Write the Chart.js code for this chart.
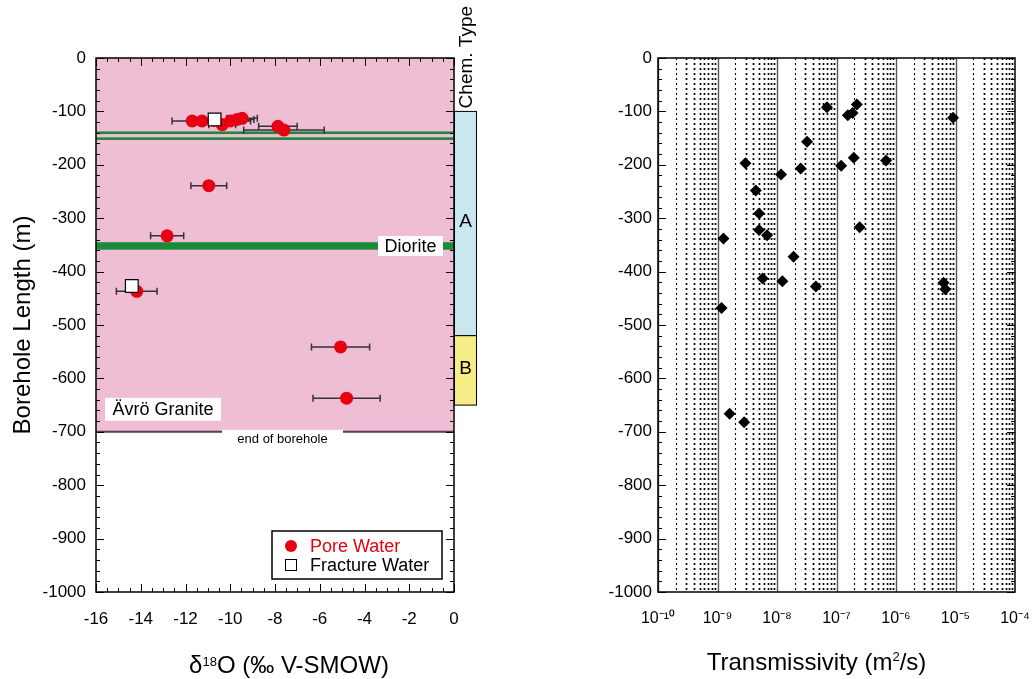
<!DOCTYPE html>
<html>
<head>
<meta charset="utf-8">
<title>Borehole profiles</title>
<script src="https://cdn.jsdelivr.net/npm/chart.js@4.4.1/dist/chart.umd.min.js"></script>
<style>
html, body { margin: 0; padding: 0; background: #fff; }
#wrap { position: relative; width: 1032px; height: 679px; overflow: hidden; }
#left { position: absolute; left: 0; top: 0; }
#right { position: absolute; left: 520px; top: 0; }
</style>
</head>
<body>
<div id="wrap">
<canvas id="left" width="520" height="679"></canvas>
<canvas id="right" width="512" height="679"></canvas>
</div>
<script>
// pore water: delta 18O (per mil V-SMOW), +/- error, borehole length (m)
const poreDelta = [-11.7, -11.26, -10.75, -10.36, -9.99, -9.69, -9.47, -7.87, -7.6, -10.96, -12.82, -14.18, -5.07, -4.8];
const poreErr   = [0.9, 0.6, 0.6, 0.6, 0.9, 0.75, 0.68, 0.86, 1.8, 0.8, 0.74, 0.91, 1.3, 1.5];
const poreDepth = [-118, -118, -117, -125, -118, -115, -113, -128, -135, -239, -333, -437, -541, -637];

// fracture water
const fracDelta = [-10.7, -14.4];
const fracDepth = [-115, -427];

// lithology along the borehole (m)
const boreholeEnd = -700;
const dioriteZones = [[-137.5, -142.5], [-148.5, -153.5], [-345, -359]];

// groundwater chemistry type intervals (m)
const chemLabels = ['A', 'B'];
const chemTop    = [-100, -520];
const chemBottom = [-520, -650];
const chemColors = ['#c9e7ef', '#f7ed86'];

// transmissivity (m2/s) against borehole length (m)
const transValues = [6.9e-8, 1.55e-7, 1.86e-7, 2.2e-7, 9.1e-6, 3.2e-8, 2.95e-9, 1.95e-7, 6.8e-7, 2.5e-8,
                     1.2e-7, 1.17e-8, 4.4e-9, 5.0e-9, 5.0e-9, 6.8e-9, 2.45e-7, 1.26e-9, 1.9e-8, 5.75e-9,
                     1.23e-8, 4.5e-8, 6.3e-6, 6.75e-6, 1.17e-9, 1.6e-9, 2.8e-9];
const transDepth  = [-92, -107, -103, -87, -112, -157, -197, -187, -192, -207,
                     -202, -218, -248, -291, -322, -332, -317, -338, -372, -413,
                     -418, -428, -421, -433, -468, -666, -682];

// axis ranges
const depthMin = -1000, depthMax = 0;
const deltaMin = -16, deltaMax = 0;
const transExpMin = -10, transExpMax = -4;

const FONT = '"Liberation Sans", Arial, Helvetica, sans-serif';
Chart.defaults.font.family = FONT;
Chart.defaults.color = '#000';

const SUP = {'-': '\u207b', '0': '\u2070', '1': '\u00b9', '2': '\u00b2', '3': '\u00b3',
             '4': '\u2074', '5': '\u2075', '6': '\u2076', '7': '\u2077', '8': '\u2078', '9': '\u2079'};
function pow10_label(e) {
    return '10' + String(e).split('').map(c => SUP[c]).join('');
}

function text_box(ctx, txt, x, y, w, h, size) {
    ctx.fillStyle = '#fff';
    ctx.fillRect(x, y, w, h);
    ctx.fillStyle = '#000';
    ctx.font = size + 'px ' + FONT;
    ctx.textAlign = 'center';
    ctx.textBaseline = 'middle';
    ctx.fillText(txt, x + w/2, y + h/2 + 1);
}

// inward tick marks on the depth axis, minor every 20 m
function depth_ticks(ctx, a, y, bothSides) {
    ctx.strokeStyle = '#000';
    ctx.lineWidth = 1;
    ctx.beginPath();
    for(let i=0; i<=50; ++i) {
        const p = Math.round(y.getPixelForValue(depthMin + 20*i)) + 0.5;
        const len = (i % 5 === 0) ? 8 : 4;
        ctx.moveTo(a.left, p); ctx.lineTo(a.left + len, p);
        if(bothSides) { ctx.moveTo(a.right, p); ctx.lineTo(a.right - len, p); }
    }
    ctx.stroke();
}

// title with one superscript part: [before, sup, after]
function title_sup(ctx, parts, cx, base, size, supSize, supRise) {
    ctx.fillStyle = '#000';
    ctx.textBaseline = 'alphabetic';
    ctx.textAlign = 'left';
    ctx.font = size + 'px ' + FONT;
    const w0 = ctx.measureText(parts[0]).width;
    const w2 = ctx.measureText(parts[2]).width;
    ctx.font = supSize + 'px ' + FONT;
    const w1 = ctx.measureText(parts[1]).width;
    let x = cx - (w0 + w1 + w2)/2;
    ctx.font = size + 'px ' + FONT;
    ctx.fillText(parts[0], x, base);
    x += w0;
    ctx.font = supSize + 'px ' + FONT;
    ctx.fillText(parts[1], x, base - supRise);
    x += w1;
    ctx.font = size + 'px ' + FONT;
    ctx.fillText(parts[2], x, base);
}

const leftDecor = {
    id: 'leftDecor',
    beforeDatasetsDraw(chart) {
        const {ctx, chartArea: a, scales: {x, y}} = chart;
        const w = a.right - a.left;
        ctx.save();
        // granite down to the end of the borehole
        const yEnd = y.getPixelForValue(boreholeEnd);
        ctx.fillStyle = '#efbdd4';
        ctx.fillRect(a.left, a.top, w, yEnd - a.top);
        // diorite sections
        ctx.fillStyle = '#1c8a3b';
        for(const [t, b] of dioriteZones) {
            const y0 = y.getPixelForValue(t), y1 = y.getPixelForValue(b);
            ctx.fillRect(a.left, y0, w, y1 - y0);
        }
        ctx.strokeStyle = '#5a3a4e';
        ctx.lineWidth = 2;
        ctx.beginPath();
        ctx.moveTo(a.left, yEnd); ctx.lineTo(a.right, yEnd);
        ctx.stroke();
        // labels
        const dz = dioriteZones[dioriteZones.length-1];
        const yd = (y.getPixelForValue(dz[0]) + y.getPixelForValue(dz[1]))/2;
        text_box(ctx, 'Diorite', a.right - 76, yd - 10, 65, 20, 18);
        text_box(ctx, '\u00c4vr\u00f6 Granite', a.left + 9, yEnd - 34, 116, 23, 18);
        text_box(ctx, 'end of borehole', a.left + 126, yEnd - 2, 121, 17, 13);
        // horizontal error bars
        ctx.strokeStyle = '#333';
        ctx.lineWidth = 1.5;
        ctx.beginPath();
        for(let i=0; i<poreDelta.length; ++i) {
            const p0 = x.getPixelForValue(poreDelta[i] - poreErr[i]);
            const p1 = x.getPixelForValue(poreDelta[i] + poreErr[i]);
            const py = y.getPixelForValue(poreDepth[i]);
            ctx.moveTo(p0, py); ctx.lineTo(p1, py);
            ctx.moveTo(p0, py - 3.5); ctx.lineTo(p0, py + 3.5);
            ctx.moveTo(p1, py - 3.5); ctx.lineTo(p1, py + 3.5);
        }
        ctx.stroke();
        ctx.restore();
    },
    afterDatasetsDraw(chart) {
        const {ctx, chartArea: a, scales: {x, y}} = chart;
        ctx.save();
        // tick marks on all four sides
        depth_ticks(ctx, a, y, true);
        ctx.beginPath();
        for(let i=0; i<=32; ++i) {
            const p = Math.round(x.getPixelForValue(deltaMin + 0.5*i)) + 0.5;
            const len = (i % 4 === 0) ? 8 : 4;
            ctx.moveTo(p, a.bottom); ctx.lineTo(p, a.bottom - len);
            ctx.moveTo(p, a.top); ctx.lineTo(p, a.top + len);
        }
        ctx.stroke();
        ctx.lineWidth = 1.5;
        ctx.strokeRect(a.left, a.top, a.right - a.left, a.bottom - a.top);

        // chemistry type column
        const cx = a.right, cw = 22;
        ctx.lineWidth = 1;
        for(let i=0; i<chemLabels.length; ++i) {
            const y0 = y.getPixelForValue(chemTop[i]), y1 = y.getPixelForValue(chemBottom[i]);
            ctx.fillStyle = chemColors[i];
            ctx.fillRect(cx, y0, cw, y1 - y0);
            ctx.strokeStyle = '#000';
            ctx.strokeRect(cx + 0.5, y0, cw, y1 - y0);
            ctx.fillStyle = '#000';
            ctx.font = '19px ' + FONT;
            ctx.textAlign = 'center';
            ctx.textBaseline = 'middle';
            ctx.fillText(chemLabels[i], cx + cw/2 + 0.5, (y0 + y1)/2 - 2);
        }
        ctx.save();
        ctx.translate(cx + 18, y.getPixelForValue(chemTop[0]) - 3);
        ctx.rotate(-Math.PI/2);
        ctx.font = '19px ' + FONT;
        ctx.textAlign = 'left';
        ctx.textBaseline = 'alphabetic';
        ctx.fillText('Chem. Type', 0, 0);
        ctx.restore();

        // legend
        const lx = a.right - 182, ly = a.bottom - 61;
        ctx.fillStyle = '#fff';
        ctx.fillRect(lx, ly, 170, 48);
        ctx.lineWidth = 1.5;
        ctx.strokeStyle = '#000';
        ctx.strokeRect(lx, ly, 170, 48);
        ctx.fillStyle = '#e60012';
        ctx.beginPath();
        ctx.arc(lx + 19, ly + 15, 6, 0, 2*Math.PI);
        ctx.fill();
        ctx.fillStyle = '#fff';
        ctx.fillRect(lx + 13, ly + 28, 12, 12);
        ctx.lineWidth = 1;
        ctx.strokeRect(lx + 13.5, ly + 28.5, 11, 11);
        ctx.font = '18px ' + FONT;
        ctx.textAlign = 'left';
        ctx.textBaseline = 'middle';
        ctx.fillStyle = '#e60012';
        ctx.fillText('Pore Water', lx + 38, ly + 16);
        ctx.fillStyle = '#000';
        ctx.fillText('Fracture Water', lx + 38, ly + 35);

        // axis titles
        ctx.save();
        ctx.translate(30, (a.top + a.bottom)/2);
        ctx.rotate(-Math.PI/2);
        ctx.font = '24px ' + FONT;
        ctx.textAlign = 'center';
        ctx.textBaseline = 'alphabetic';
        ctx.fillText('Borehole Length (m)', 0, 0);
        ctx.restore();
        title_sup(ctx, ['\u03b4', '18', 'O (\u2030 V-SMOW)'], a.left + 193, a.bottom + 81, 24, 13, 7);
        ctx.restore();
    }
};

const rightDecor = {
    id: 'rightDecor',
    beforeDatasetsDraw(chart) {
        const {ctx, chartArea: a, scales: {x}} = chart;
        ctx.save();
        // decade lines solid, 2..9 dotted
        for(let e=transExpMin; e<transExpMax; ++e) {
            for(let m=1; m<=9; ++m) {
                const p = Math.round(x.getPixelForValue(m*Math.pow(10, e))) + 0.5;
                ctx.beginPath();
                if(m === 1) {
                    ctx.setLineDash([]);
                    ctx.strokeStyle = '#555';
                    ctx.lineWidth = 1.4;
                } else {
                    ctx.setLineDash([2, 3]);
                    ctx.strokeStyle = '#000';
                    ctx.lineWidth = m === 2 ? 1.1 : 1.7;
                }
                ctx.moveTo(p, a.top); ctx.lineTo(p, a.bottom);
                ctx.stroke();
            }
        }
        ctx.restore();
    },
    afterDatasetsDraw(chart) {
        const {ctx, chartArea: a, scales: {y}} = chart;
        ctx.save();
        depth_ticks(ctx, a, y, true);
        ctx.lineWidth = 1.5;
        ctx.strokeStyle = '#000';
        ctx.strokeRect(a.left, a.top, a.right - a.left, a.bottom - a.top);
        title_sup(ctx, ['Transmissivity (m', '2', '/s)'], (a.left + a.right)/2 - 20, a.bottom + 78, 24, 13, 9);
        ctx.restore();
    }
};

function depth_axis(width, pad) {
    return {
        type: 'linear',
        min: depthMin,
        max: depthMax,
        grid: {display: false, drawTicks: false},
        border: {display: false},
        ticks: {stepSize: 100, padding: pad, font: {size: 17}, callback: v => String(v)},
        afterFit: s => { s.width = width; }
    };
}

// keep the plot edges where the layout puts them, labels may overhang
function fit_bottom(s) {
    s.height = 87;
    s.paddingLeft = 0;
    s.paddingRight = 0;
}

new Chart(document.getElementById('left'), {
    type: 'scatter',
    data: {
        datasets: [{
            label: 'Fracture Water',
            order: 0,
            data: fracDelta.map((v, i) => ({x: v, y: fracDepth[i]})),
            pointStyle: 'rect',
            pointRadius: 9,
            backgroundColor: '#fff',
            borderColor: '#000',
            borderWidth: 1.2
        }, {
            label: 'Pore Water',
            order: 1,
            data: poreDelta.map((v, i) => ({x: v, y: poreDepth[i]})),
            pointStyle: 'circle',
            pointRadius: 6.5,
            backgroundColor: '#e60012',
            borderColor: '#e60012',
            borderWidth: 0
        }]
    },
    options: {
        responsive: false,
        animation: false,
        layout: {padding: {left: 0, top: 58, right: 66, bottom: 0}},
        plugins: {legend: {display: false}, tooltip: {enabled: false}},
        scales: {
            x: {
                type: 'linear',
                min: deltaMin,
                max: deltaMax,
                grid: {display: false, drawTicks: false},
                border: {display: false},
                ticks: {stepSize: 2, padding: 17, maxRotation: 0, autoSkip: false, font: {size: 17}, callback: v => String(v)},
                afterFit: fit_bottom
            },
            y: depth_axis(96, 10)
        }
    },
    plugins: [leftDecor]
});

new Chart(document.getElementById('right'), {
    type: 'scatter',
    data: {
        datasets: [{
            label: 'Transmissivity',
            data: transValues.map((v, i) => ({x: v, y: transDepth[i]})),
            pointStyle: 'rectRot',
            pointRadius: 6,
            backgroundColor: '#000',
            borderWidth: 0
        }]
    },
    options: {
        responsive: false,
        animation: false,
        layout: {padding: {left: 0, top: 58, right: 17, bottom: 0}},
        plugins: {legend: {display: false}, tooltip: {enabled: false}},
        scales: {
            x: {
                type: 'logarithmic',
                min: Math.pow(10, transExpMin),
                max: Math.pow(10, transExpMax),
                grid: {display: false, drawTicks: false},
                border: {display: false},
                ticks: {
                    padding: 17, maxRotation: 0, autoSkip: false, font: {size: 16},
                    callback: function(v) {
                        const e = Math.log10(v), r = Math.round(e);
                        return Math.abs(e - r) < 1e-6 ? pow10_label(r) : '';
                    }
                },
                afterFit: fit_bottom
            },
            y: depth_axis(138, 6)
        }
    },
    plugins: [rightDecor]
});
</script>
</body>
</html>
